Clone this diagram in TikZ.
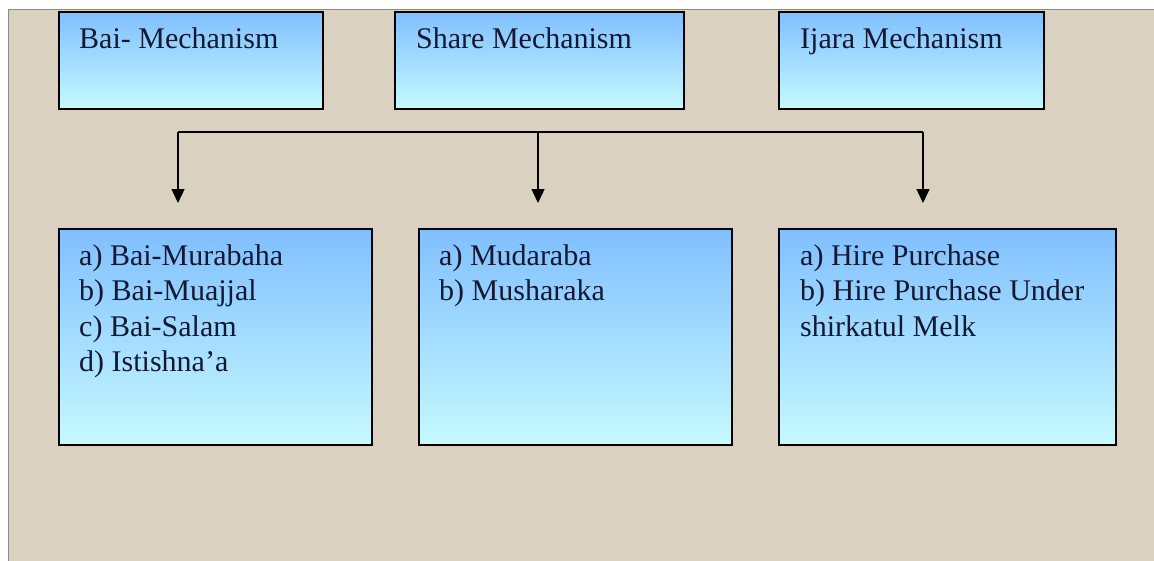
\documentclass[tikz,border=0pt]{standalone}
\usepackage{fontspec}
\setmainfont{Liberation Serif}
\usetikzlibrary{arrows.meta}
\definecolor{bgbeige}{HTML}{DBD1C0}
\definecolor{bgline}{HTML}{8A8A8A}
\definecolor{boxtop}{HTML}{80BFFF}
\definecolor{boxbot}{HTML}{C6FAFF}
\definecolor{txtcol}{HTML}{141830}
\tikzset{
  mbox/.style={draw=black, line width=1.6pt, top color=boxtop, bottom color=boxbot,
    anchor=north west, inner sep=0pt},
  mtxt/.style={text=txtcol, anchor=base west, align=left, inner sep=0pt,
    font=\fontsize{30}{35.5}\selectfont},
  conn/.style={draw=black, line width=1.4pt},
  arr/.style={conn, -{Triangle[width=13pt,length=14pt]}}
}
\begin{document}
\begin{tikzpicture}[x=1pt,y=-1pt]
\useasboundingbox (0,0) rectangle (1154,560);
\fill[white] (0,0) rectangle (1154,560);
\filldraw[fill=bgbeige, draw=bgline, line width=1pt] (8,9) rectangle (1160,570);
% top boxes
\node[mbox, minimum width=264pt, minimum height=97pt] (b1) at (58,11) {};
\node[mbox, minimum width=289pt, minimum height=97pt] (b2) at (394,11) {};
\node[mbox, minimum width=265pt, minimum height=97pt] (b3) at (778,11) {};
\node[mtxt] (t1) at (79,48) {Bai- Mechanism};
\node[mtxt] (t2) at (416,48) {Share Mechanism};
\node[mtxt] (t3) at (800,48) {Ijara Mechanism};
% bottom boxes (text anchored at the baseline of its last line)
\node[mbox, minimum width=313pt, minimum height=216pt] (c1) at (58,228) {};
\node[mbox, minimum width=313pt, minimum height=216pt] (c2) at (418,228) {};
\node[mbox, minimum width=337pt, minimum height=216pt] (c3) at (778,228) {};
\node[mtxt] (u1) at (79,371.5) {a) Bai-Murabaha\\b) Bai-Muajjal\\c) Bai-Salam\\d) Istishna'a};
\node[mtxt] (u2) at (439,300.5) {a) Mudaraba\\b) Musharaka};
\node[mtxt] (u3) at (800,336) {a) Hire Purchase\\b) Hire Purchase Under\\shirkatul Melk};
% connectors
\coordinate (hl) at (178,132);
\coordinate (hm) at (538,132);
\coordinate (hr) at (923,132);
\coordinate (al) at (178,203);
\coordinate (am) at (538,203);
\coordinate (ar) at (923,203);
\draw[conn] (hl) -- (hr);
\draw[arr] (hl) -- (al);
\draw[arr] (hm) -- (am);
\draw[arr] (hr) -- (ar);
\end{tikzpicture}
\end{document}
